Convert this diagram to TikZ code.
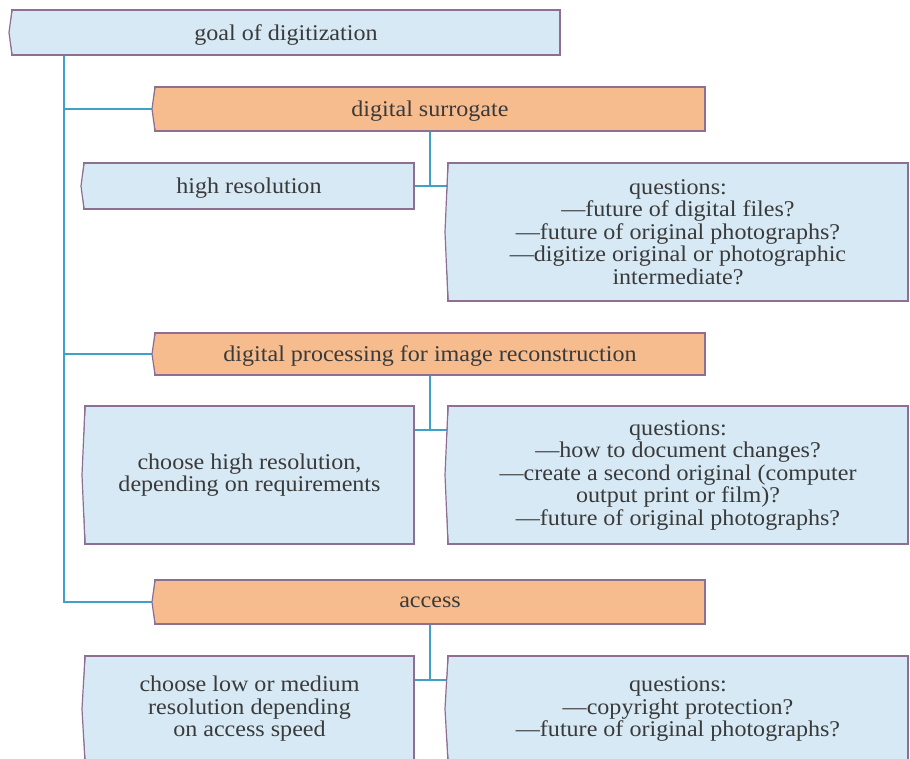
\documentclass[tikz,border=0pt]{standalone}
\usepackage{fontspec}
\setmainfont{Liberation Serif}[FakeStretch=1.07]
\usepackage{xcolor}
\definecolor{dblue}{HTML}{D6E9F5}
\definecolor{dorange}{HTML}{F7BC8E}
\definecolor{dframe}{HTML}{8F6E93}
\definecolor{dlink}{HTML}{3FA0C8}
\definecolor{dtext}{HTML}{3A3A3A}
\usetikzlibrary{positioning,backgrounds,calc}

\begin{document}
\begin{tikzpicture}[
  x=1pt,y=-1pt,
  font=\fontsize{22.5}{22.5}\selectfont,
  box/.style={rectangle,draw=dframe,line width=1.2pt,fill=dblue,text=dtext,align=center,inner sep=0pt,outer sep=0pt,anchor=north west},
  oneline/.style={text depth=0pt},
  topic/.style={box,oneline,fill=dorange,minimum width=550pt},
  link/.style={draw=dlink,line width=1.8pt}
]
\useasboundingbox (0,0) rectangle (910,759);
\node[box,oneline,minimum width=548pt,minimum height=45pt] (goal) at (12,10) {goal of digitization};
% digital surrogate
\node[topic,minimum height=44pt] (sur) at (155,87) {digital surrogate};
\node[box,oneline,minimum width=330pt,minimum height=46pt] (hires) at (84,163) {high resolution};
\node[box,minimum width=460pt,minimum height=138pt,right=34pt of hires.north east,anchor=north west] (q1) {questions:\\—future of digital files?\\—future of original photographs?\\—digitize original or photographic\\intermediate?};
% image reconstruction
\node[topic,minimum height=42pt] (proc) at (155,333) {digital processing for image reconstruction};
\node[box,minimum width=329pt,minimum height=138pt] (req) at (85,406) {choose high resolution,\\depending on requirements};
\node[box,minimum width=460pt,minimum height=138pt,right=34pt of req.north east,anchor=north west] (q2) {questions:\\—how to document changes?\\—create a second original (computer\\output print or film)?\\—future of original photographs?};
% access
\node[topic,minimum height=44pt] (acc) at (155,580) {access};
\node[box,minimum width=329pt,minimum height=106pt] (low) at (85,656) {choose low or medium\\resolution depending\\on access speed};
\node[box,minimum width=460pt,minimum height=106pt,right=34pt of low.north east,anchor=north west] (q3) {questions:\\—copyright protection?\\—future of original photographs?};
% pointed left sides
\foreach \n/\col in {goal/dblue,sur/dorange,hires/dblue,q1/dblue,proc/dorange,req/dblue,q2/dblue,acc/dorange,low/dblue,q3/dblue}{
  \fill[\col] ([xshift=0.8pt]\n.north west) -- ([xshift=-3pt]\n.west) -- ([xshift=0.8pt]\n.south west) -- cycle;
  \draw[dframe,line width=1.2pt] (\n.north west) -- ([xshift=-3pt]\n.west) -- (\n.south west);
}
\begin{scope}[on background layer]
\fill[white] (0,0) rectangle (910,759);
\coordinate (trunk) at ([xshift=52pt]goal.south west);
\draw[link] (trunk) |- (acc.west);
\draw[link] (trunk |- sur.west) -- (sur.west);
\draw[link] (trunk |- proc.west) -- (proc.west);
\coordinate (j1) at (sur.south |- hires.east);
\draw[link] (sur.south) -- (j1);
\draw[link] (hires.east) -- (q1.west |- j1);
\coordinate (j2) at (proc.south |- 0,430);
\draw[link] (proc.south) -- (j2);
\draw[link] (req.east |- j2) -- (q2.west |- j2);
\coordinate (j3) at (acc.south |- 0,680);
\draw[link] (acc.south) -- (j3);
\draw[link] (low.east |- j3) -- (q3.west |- j3);
\end{scope}
\end{tikzpicture}
\end{document}
